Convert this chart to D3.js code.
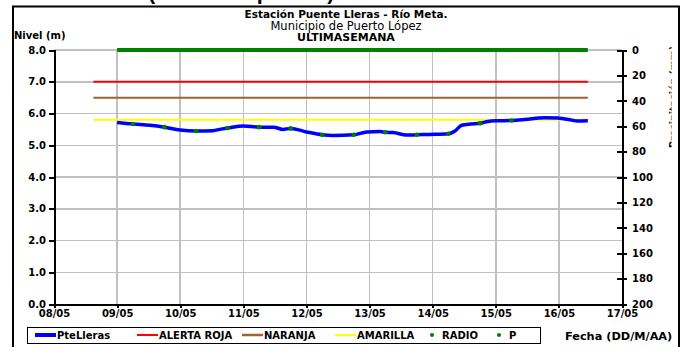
<!DOCTYPE html>
<html>
<head>
<meta charset="utf-8">
<script src="https://cdn.jsdelivr.net/npm/d3@7"></script>
<style>
    body { margin: 0; background: #fff; }
    text { font-family: "DejaVu Sans", Arial, sans-serif; }
    .axis path, .axis line { stroke: #000; stroke-width: 2; shape-rendering: crispEdges; }
    .axis text { font-size: 10px; font-weight: bold; fill: #000; }
    .grid line { stroke: #c0c0c0; stroke-width: 1.5; shape-rendering: crispEdges; }
</style>
</head>
<body>
<div class="chart-area"></div>
<script>

// Data (time stamps are DD/MM HH:MM)
var dayTicks = ["08/05", "09/05", "10/05", "11/05", "12/05", "13/05", "14/05", "15/05", "16/05", "17/05"];
var levelTicks = [0, 1, 2, 3, 4, 5, 6, 7, 8];
var rainTicks = [0, 20, 40, 60, 80, 100, 120, 140, 160, 180, 200];

var levelTimes = ["09/05 00:00", "09/05 06:00", "09/05 12:30", "09/05 18:00", "10/05 00:00", "10/05 06:00",
    "10/05 12:30", "10/05 15:00", "10/05 18:00", "11/05 00:00", "11/05 06:00", "11/05 11:30", "11/05 15:00",
    "11/05 18:00", "12/05 00:00", "12/05 06:00", "12/05 10:00", "12/05 18:00", "12/05 23:00", "13/05 04:00",
    "13/05 06:00", "13/05 09:00", "13/05 14:00", "13/05 18:00", "13/05 23:00", "14/05 06:00", "14/05 08:30",
    "14/05 11:00", "14/05 14:30", "14/05 18:00", "14/05 21:00", "15/05 00:30", "15/05 06:00", "15/05 11:00",
    "15/05 18:30", "15/05 23:30", "16/05 04:30", "16/05 07:00", "16/05 11:00"];
var levelValues = [5.72, 5.67, 5.63, 5.57, 5.48, 5.45,
    5.46, 5.50, 5.54, 5.61, 5.57, 5.57, 5.50,
    5.53, 5.42, 5.33, 5.31, 5.33, 5.42, 5.43,
    5.41, 5.40, 5.32, 5.33, 5.34, 5.36, 5.45,
    5.63, 5.67, 5.69, 5.75, 5.77, 5.78, 5.81,
    5.87, 5.86, 5.80, 5.76, 5.77];

var radioTimes = ["09/05 06:00", "09/05 18:00", "10/05 06:00", "10/05 18:00", "11/05 06:00", "11/05 18:00",
    "12/05 06:00", "12/05 18:00", "13/05 06:00", "13/05 18:00", "14/05 06:00", "14/05 18:00", "15/05 06:00"];
var radioValues = [5.67, 5.57, 5.45, 5.54, 5.57, 5.53, 5.33, 5.33, 5.41, 5.33, 5.36, 5.69, 5.78];

var pTimes = ["09/05 00:00", "09/05 12:00", "10/05 00:00", "10/05 12:00", "11/05 00:00", "11/05 12:00",
    "12/05 00:00", "12/05 12:00", "13/05 00:00", "13/05 12:00", "14/05 00:00", "14/05 12:00",
    "15/05 00:00", "15/05 12:00", "16/05 00:00", "16/05 11:00"];
var pValues = [0, 0, 0, 0, 0, 0, 0, 0, 0, 0, 0, 0, 0, 0, 0, 0];

var alertNames = ["ALERTA ROJA", "NARANJA", "AMARILLA"];
var alertValues = [7.0, 6.5, 5.8];
var alertSpan = ["08/05 15:00", "16/05 11:00"];



/*
 * LevelChart - river level chart with alert lines and a rain axis
 */

LevelChart = function(_parentElement){
    this.parentElement = _parentElement;
    this.initVis();
}

LevelChart.prototype.initVis = function(){
    var vis = this;

    vis.margin = { top: 50, right: 62, bottom: 43, left: 54 };
    vis.width = 684 - vis.margin.left - vis.margin.right;
    vis.height = 347 - vis.margin.top - vis.margin.bottom;

    vis.parseTime = d3.timeParse("%d/%m/%Y %H:%M");

    vis.svgRoot = d3.select("." + vis.parentElement).append("svg")
        .attr("width", 684)
        .attr("height", 347)
        .style("display", "block");

    // outer frame
    vis.svgRoot.append("rect")
        .attr("x", 13).attr("y", 6.5)
        .attr("width", 666).attr("height", 350)
        .attr("fill", "none")
        .attr("stroke", "#000")
        .attr("stroke-width", 2);

    // text of the page above the chart, cut off at the top edge
    vis.svgRoot.append("text")
        .attr("x", 148).attr("y", -1.5)
        .style("font-family", "'Liberation Sans', Arial, sans-serif")
        .style("font-size", "21.5px").style("font-weight", "bold")
        .text("(Nivel tiempo real)");

    // titles
    var titles = [
        { t: "Estación Puente Lleras - Río Meta.", y: 18, w: "bold", s: "10.5px" },
        { t: "Municipio de Puerto López", y: 29.5, w: "normal", s: "11.5px" },
        { t: "ULTIMASEMANA", y: 41, w: "bold", s: "11px" }
    ];
    vis.svgRoot.selectAll(".title")
        .data(titles)
        .enter()
        .append("text")
        .attr("class", "title")
        .attr("x", 346)
        .attr("y", function(d) { return d.y; })
        .attr("text-anchor", "middle")
        .style("font-weight", function(d) { return d.w; })
        .style("font-size", function(d) { return d.s; })
        .text(function(d) { return d.t; });

    vis.svgRoot.append("text")
        .attr("x", 14).attr("y", 39)
        .style("font-size", "10px").style("font-weight", "bold")
        .text("Nivel (m)");

    // right axis title, clipped like in the source picture
    vis.svgRoot.append("clipPath").attr("id", "rclip")
        .append("rect").attr("x", 600).attr("y", 0).attr("width", 71.5).attr("height", 347);
    vis.svgRoot.append("g")
        .attr("clip-path", "url(#rclip)")
        .append("text")
        .attr("transform", "translate(675.5,46) rotate(-90)")
        .attr("text-anchor", "end")
        .style("font-size", "9.5px").style("font-weight", "bold")
        .text("Precipitación (mm)");

    vis.svg = vis.svgRoot.append("g")
        .attr("transform", "translate(" + vis.margin.left + "," + vis.margin.top + ")");

    // scales
    vis.x = d3.scaleTime()
        .domain([vis.parseTime("08/05/2011 00:00"), vis.parseTime("17/05/2011 00:00")])
        .range([0, vis.width]);

    vis.y = d3.scaleLinear()
        .domain([0, 8])
        .range([vis.height, 0]);

    vis.y2 = d3.scaleLinear()
        .domain([0, 200])
        .range([0, vis.height]);

    vis.wrangleData();
}

LevelChart.prototype.wrangleData = function(){
    var vis = this;

    var toDate = function(s) {
        var parts = s.split(" ");
        return vis.parseTime(parts[0] + "/2011 " + (parts[1] || "00:00"));
    };

    vis.dayDates = dayTicks.map(function(d) { return toDate(d); });
    vis.level = levelTimes.map(function(t, i) { return { date: toDate(t), value: levelValues[i] }; });
    vis.radio = radioTimes.map(function(t, i) { return { date: toDate(t), value: radioValues[i] }; });
    vis.rain = pTimes.map(function(t, i) { return { date: toDate(t), value: pValues[i] }; });
    vis.alerts = alertNames.map(function(n, i) {
        return { name: n, value: alertValues[i], start: toDate(alertSpan[0]), end: toDate(alertSpan[1]) };
    });

    vis.updateVis();
}

LevelChart.prototype.updateVis = function(){
    var vis = this;

    var alertColors = d3.scaleOrdinal()
        .domain(alertNames)
        .range(["#ff0000", "#996633", "#ffff00"]);

    // grid lines
    var grid = vis.svg.append("g").attr("class", "grid");
    grid.selectAll(".hgrid")
        .data(levelTicks.slice(1))
        .enter()
        .append("line")
        .attr("x1", 0).attr("x2", vis.width)
        .attr("y1", function(d) { return vis.y(d); })
        .attr("y2", function(d) { return vis.y(d); });
    grid.selectAll(".vgrid")
        .data(vis.dayDates.slice(1, -1))
        .enter()
        .append("line")
        .attr("y1", 0).attr("y2", vis.height)
        .attr("x1", function(d) { return vis.x(d); })
        .attr("x2", function(d) { return vis.x(d); });

    // alert levels
    vis.svg.selectAll(".alert")
        .data(vis.alerts)
        .enter()
        .append("line")
        .attr("class", "alert")
        .attr("x1", function(d) { return vis.x(d.start); })
        .attr("x2", function(d) { return vis.x(d.end); })
        .attr("y1", function(d) { return vis.y(d.value); })
        .attr("y2", function(d) { return vis.y(d.value); })
        .attr("stroke", function(d) { return alertColors(d.name); })
        .attr("stroke-width", 2);

    // river level
    var line = d3.line()
        .x(function(d) { return vis.x(d.date); })
        .y(function(d) { return vis.y(d.value); })
        .curve(d3.curveMonotoneX);

    vis.svg.append("path")
        .datum(vis.level)
        .attr("fill", "none")
        .attr("stroke", "#0000ff")
        .attr("stroke-width", 3.5)
        .attr("stroke-linejoin", "round")
        .attr("d", line);

    vis.svg.selectAll(".radio")
        .data(vis.radio)
        .enter()
        .append("circle")
        .attr("class", "radio")
        .attr("cx", function(d) { return vis.x(d.date); })
        .attr("cy", function(d) { return vis.y(d.value); })
        .attr("r", 2.3)
        .attr("fill", "#008000");

    // rain (right axis)
    var rainLine = d3.line()
        .x(function(d) { return vis.x(d.date); })
        .y(function(d) { return vis.y2(d.value); });

    vis.svg.append("path")
        .datum(vis.rain)
        .attr("fill", "none")
        .attr("stroke", "#008000")
        .attr("stroke-width", 4)
        .attr("d", rainLine);

    // axes
    var yAxis = d3.axisLeft(vis.y)
        .tickValues(levelTicks)
        .tickFormat(d3.format(".1f"))
        .tickSizeOuter(0)
        .tickSize(5)
        .tickPadding(3);
    vis.svg.append("g").attr("class", "axis").call(yAxis);

    var y2Axis = d3.axisRight(vis.y2)
        .tickValues(rainTicks)
        .tickSizeOuter(0)
        .tickSize(5)
        .tickPadding(5);
    var y2Group = vis.svg.append("g").attr("class", "axis")
        .attr("transform", "translate(" + vis.width + ",0)")
        .call(y2Axis);
    y2Group.selectAll(".tick line").attr("x1", -5);

    var xAxis = d3.axisBottom(vis.x)
        .tickValues(vis.dayDates)
        .tickFormat(d3.timeFormat("%d/%m"))
        .tickSizeOuter(0)
        .tickSize(4)
        .tickPadding(2);
    vis.svg.append("g").attr("class", "axis")
        .attr("transform", "translate(0," + vis.height + ")")
        .call(xAxis);

    vis.svg.selectAll(".axis .domain").attr("stroke-width", 2);

    // legend
    var legend = vis.svgRoot.append("g").attr("class", "legend");
    legend.append("rect")
        .attr("x", 27.5).attr("y", 327.5)
        .attr("width", 513).attr("height", 16)
        .attr("fill", "none").attr("stroke", "#000");

    var items = [
        { name: "PteLleras", color: "#0000ff", kind: "line", w: 4, x: 35 },
        { name: "ALERTA ROJA", color: alertColors("ALERTA ROJA"), kind: "line", w: 2, x: 137 },
        { name: "NARANJA", color: alertColors("NARANJA"), kind: "line", w: 2.5, x: 242 },
        { name: "AMARILLA", color: alertColors("AMARILLA"), kind: "line", w: 2, x: 335 },
        { name: "RADIO", color: "#008000", kind: "dot", x: 428 },
        { name: "P", color: "#008000", kind: "dot", x: 495 }
    ];

    var item = legend.selectAll(".item")
        .data(items)
        .enter()
        .append("g")
        .attr("class", "item")
        .attr("transform", function(d) { return "translate(" + d.x + ",335)"; });

    item.filter(function(d) { return d.kind == "line"; })
        .append("line")
        .attr("x1", 0).attr("x2", 21)
        .attr("stroke", function(d) { return d.color; })
        .attr("stroke-width", function(d) { return d.w; });

    item.filter(function(d) { return d.kind == "dot"; })
        .append("circle")
        .attr("cx", 4).attr("r", 2)
        .attr("fill", function(d) { return d.color; });

    item.append("text")
        .attr("x", function(d) { return d.kind == "line" ? 22 : 14; })
        .attr("y", 4)
        .style("font-size", "10px").style("font-weight", "bold")
        .text(function(d) { return d.name; });

    vis.svgRoot.append("text")
        .attr("x", 565).attr("y", 339.5)
        .style("font-size", "11.3px").style("font-weight", "bold")
        .text("Fecha (DD/M/AA)");
}

var levelChart = new LevelChart("chart-area");

</script>
</body>
</html>
